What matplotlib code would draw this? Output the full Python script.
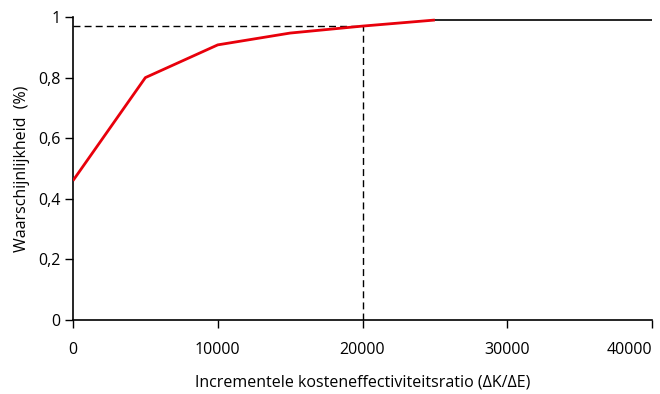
import matplotlib
matplotlib.use("Agg")
import matplotlib.pyplot as plt

x_red = [0, 5000, 10000, 15000, 20000, 25000]
y_red = [0.46, 0.80, 0.908, 0.947, 0.97, 0.99]
x_black = [25000, 40000]
y_black = [0.99, 0.99]
thr_x = 20000
thr_y = 0.97
xticks = [0, 10000, 20000, 30000, 40000]
yticks = [0, 0.2, 0.4, 0.6, 0.8, 1]
yticklabels = ["0", "0,2", "0,4", "0,6", "0,8", "1"]

plt.rcParams['font.family'] = ['Open Sans', 'DejaVu Sans']
fig = plt.figure(figsize=(6.6, 3.94), dpi=100)
ax = fig.add_axes([73/660, 1-320/394, (652-73)/660, (320-17)/394])
ax.plot(x_black, y_black, color='black', lw=1.2, zorder=2)
ax.plot([0, thr_x], [thr_y, thr_y], color='black', lw=1, ls=(0, (5, 3)), zorder=1)
ax.plot([thr_x, thr_x], [0, thr_y], color='black', lw=1, ls=(0, (5, 3)), zorder=1)
ax.plot(x_red, y_red, color='#e8000b', lw=2, zorder=3, solid_capstyle='butt')
ax.set_xlim(0, 40000)
ax.set_ylim(0, 1)
ax.set_xticks(xticks)
ax.set_xticklabels([str(v) for v in xticks])
ax.get_xticklabels()[-1].set_horizontalalignment('right')
ax.set_yticks(yticks)
ax.set_yticklabels(yticklabels)
for s in ['top', 'right']:
    ax.spines[s].set_visible(False)
for s in ['left', 'bottom']:
    ax.spines[s].set_linewidth(1.2)
ax.tick_params(direction='out', length=6, width=1, labelsize=11.5, pad=10)
ax.tick_params(axis='y', pad=3)
ax.set_xlabel("Incrementele kosteneffectiviteitsratio (ΔK/ΔE)", fontsize=11.5, labelpad=12)
ax.set_ylabel("Waarschijnlijkheid  (%)", fontsize=11.5, labelpad=6)
fig.savefig("out.png", dpi=100)
